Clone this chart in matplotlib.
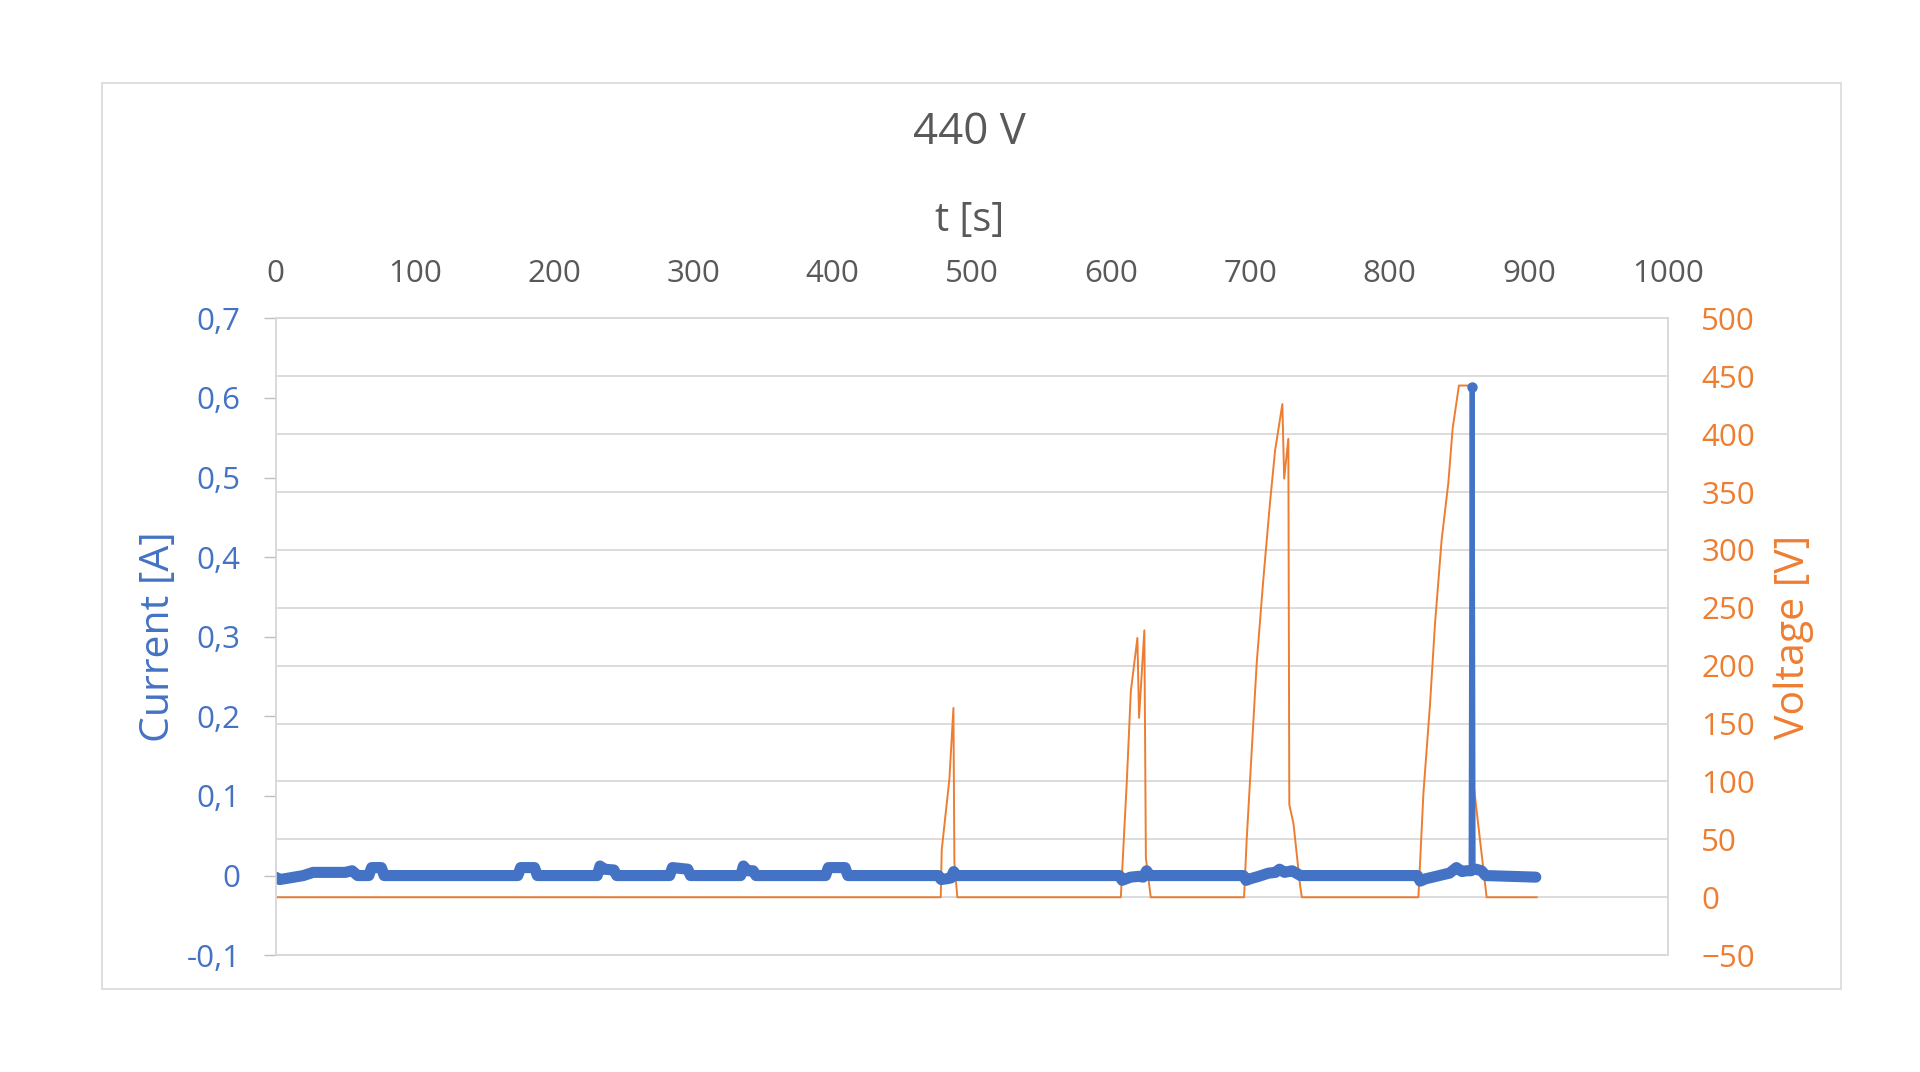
import numpy as np
import matplotlib.pyplot as plt
from matplotlib.patches import Rectangle
from matplotlib.ticker import FuncFormatter, MultipleLocator

plt.rcParams['font.family'] = ['Open Sans', 'DejaVu Sans']

# current [A] vs time [s]
cur_t = [0, 3, 10, 20, 27, 50, 55, 59, 67, 69, 76, 78, 174, 176, 186, 188,
         231, 233, 236, 243, 245, 283, 285, 296, 298, 334, 336, 339, 343, 345,
         395, 397, 409, 411, 476, 478, 482, 485, 487, 489, 606, 608, 611, 614,
         620, 623, 625.5, 628, 695, 697, 700, 706, 713, 718, 721, 724.5, 730,
         733, 736, 820, 822, 826, 831, 838, 843, 848, 852, 855, 858.5, 859.3,
         860, 862, 866, 869, 905]
cur_i = [-0.002, -0.005, -0.003, 0.0, 0.004, 0.004, 0.006, 0.0, 0.0, 0.01,
         0.01, 0.0, 0.0, 0.01, 0.01, 0.0, 0.0, 0.012, 0.008, 0.007, 0.0, 0.0,
         0.01, 0.008, 0.0, 0.0, 0.012, 0.006, 0.006, 0.0, 0.0, 0.01, 0.01, 0.0,
         0.0, -0.005, -0.004, -0.003, 0.005, 0.0, 0.0, -0.006, -0.004, -0.002,
         -0.001, -0.002, 0.006, 0.0, 0.0, -0.006, -0.004, -0.001, 0.003, 0.004,
         0.008, 0.004, 0.006, 0.003, 0.0, 0.0, -0.007, -0.004, -0.002, 0.001,
         0.003, 0.01, 0.005, 0.006, 0.006, 0.614, 0.008, 0.008, 0.006, 0.0,
         -0.002]

# voltage [V] vs time [s]
volt_t = [0, 477.7, 478.4, 483.9, 486.8, 487.5, 489.6, 607, 608.4, 611.3,
          614.2, 618.9, 620.1, 623.9, 625, 628.5, 695.5, 697.4, 701, 704.6,
          709.4, 714.2, 717.8, 723, 724.3, 727.3, 728, 731, 735.7, 737, 820.7,
          824.3, 829, 832.6, 837.4, 842.2, 845.3, 849.8, 859, 859.6, 869.7,
          905.7]
volt_v = [0, 0, 41, 102, 163.5, 30, 0, 0, 32.5, 100, 178, 224, 155, 230.6,
          34, 0, 0, 50, 126.5, 202.6, 275.5, 341.7, 386, 426, 361.6, 396, 80,
          63.6, 10.6, 0, 0, 90, 166, 236, 309, 358, 405, 442, 442, 105, 0, 0]

x_ticks = np.arange(0, 1001, 100)

blue = '#4472C4'
orange = '#ED7D31'
gray = '#595959'
grid = '#D9D9D9'

fig = plt.figure(figsize=(19.2, 10.72), dpi=100)
fig.patches.append(Rectangle((0.0529, 0.0771), 0.9057, 0.8452,
                             transform=fig.transFigure, fill=False,
                             edgecolor=grid, lw=1.2))

ax = fig.add_axes([0.1435, 0.109, 0.7253, 0.594])
ax2 = ax.twinx()

# voltage on right axis
ax2.plot(volt_t, volt_v, color=orange, lw=1.4)
ax2.set_ylim(-50, 500)
ax2.yaxis.set_major_locator(MultipleLocator(50))
ax2.grid(axis='y', color=grid, lw=1.3)
ax2.tick_params(axis='y', length=0, pad=24, labelsize=22.5, labelcolor=orange)

# current on left axis, drawn above voltage
ax.set_zorder(ax2.get_zorder() + 1)
ax.patch.set_visible(False)
cur_i = np.array(cur_i)
band = np.where(cur_i > 0.1, np.nan, cur_i)
ax.plot(cur_t, cur_i, color=blue, lw=3.6)
ax.plot(cur_t, band, color=blue, lw=8, solid_capstyle='round',
        solid_joinstyle='round')
k = int(np.argmax(cur_i))
ax.plot(cur_t[k], cur_i[k], 'o', color=blue, ms=6.5)
ax.set_ylim(-0.1, 0.7)
ax.set_xlim(0, 1000)
ax.set_xticks(x_ticks)
ax.yaxis.set_major_locator(MultipleLocator(0.1))
ax.yaxis.set_major_formatter(FuncFormatter(
    lambda v, p: f"{round(v, 2):g}".replace('.', ',')))
ax.xaxis.tick_top()
ax.tick_params(axis='x', length=0, pad=21, labelsize=22.5, labelcolor=gray)
ax.tick_params(axis='y', length=9, width=1, color='#BFBFBF', pad=16,
               labelsize=22.5, labelcolor=blue)

for a in (ax, ax2):
    for s in a.spines.values():
        s.set_color(grid)
        s.set_linewidth(1.2)

fig.text(0.505, 0.876, '440 V', ha='center', va='center', fontsize=31.5,
         color=gray)
fig.text(0.505, 0.794, 't [s]', ha='center', va='center', fontsize=28.5,
         color=gray)
fig.text(0.0826, 0.406, 'Current [A]', ha='center', va='center',
         fontsize=29.5, color=blue, rotation=90)
fig.text(0.9345, 0.406, 'Voltage [V]', ha='center', va='center',
         fontsize=29.5, color=orange, rotation=90)

plt.savefig('out.png', dpi=100)
